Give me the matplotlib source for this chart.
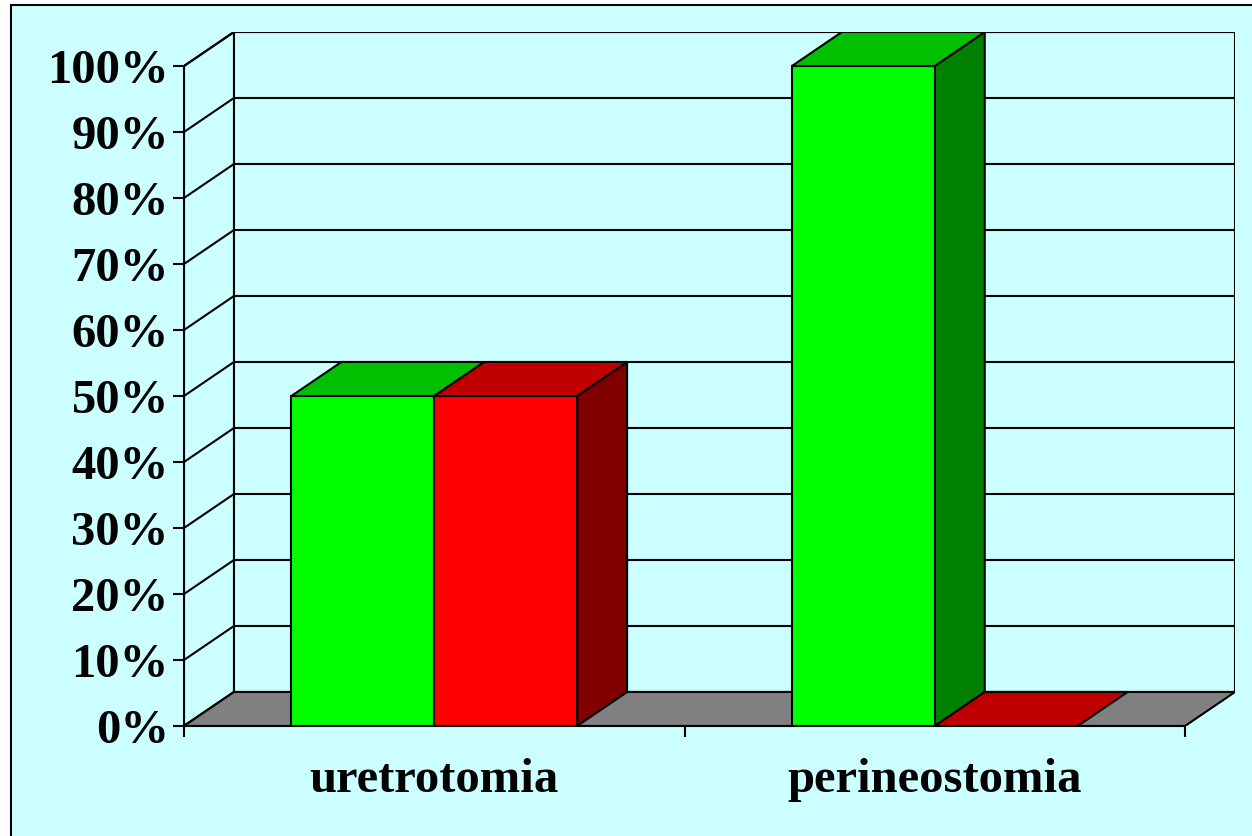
import matplotlib
matplotlib.use("Agg")
import matplotlib.pyplot as plt
from matplotlib.patches import Polygon, Rectangle

categories = ["uretrotomia", "perineostomia"]
green_values = [50, 100]
red_values = [50, 0]
yticks = [0, 10, 20, 30, 40, 50, 60, 70, 80, 90, 100]
ytick_labels = ["0%", "10%", "20%", "30%", "40%", "50%", "60%", "70%", "80%", "90%", "100%"]

W, H = 1252, 836
fig = plt.figure(figsize=(W / 100, H / 100), dpi=100)
fig.patch.set_facecolor("white")
fig.patches.append(Rectangle((11 / W, -0.05), 1.1, 1 - 5 / H + 0.05, transform=fig.transFigure,
                             facecolor="#CCFFFF", edgecolor="black", linewidth=1.5, zorder=-10))

# axes: front plane left at px 184, bottom at 726; back plane right at 1235, top at 32
ax = fig.add_axes([184 / W, 1 - 726 / H, (1235 - 184) / W, (726 - 32) / H])
ax.set_facecolor("none")
cat_px = 501.0
dx = 50 / cat_px          # depth offset in category units
dy = 34 / 660 * 100       # depth offset in percent units
ax.set_xlim(0, 2 + dx)
ax.set_ylim(0, 100 + dy)

lw = 1.5
# back wall
ax.add_patch(Polygon([(dx, dy), (2 + dx, dy), (2 + dx, 100 + dy), (dx, 100 + dy)],
                     closed=True, facecolor="#CCFFFF", edgecolor="black", lw=lw, zorder=1))
# left wall
ax.add_patch(Polygon([(0, 0), (dx, dy), (dx, 100 + dy), (0, 100)],
                     closed=True, facecolor="#CCFFFF", edgecolor="black", lw=lw, zorder=1))
for v in yticks:
    ax.plot([0, dx, 2 + dx], [v, v + dy, v + dy], color="black", lw=lw, zorder=2,
            solid_capstyle="butt")
# floor
ax.add_patch(Polygon([(0, 0), (2, 0), (2 + dx, dy), (dx, dy)],
                     closed=True, facecolor="#808080", edgecolor="black", lw=lw, zorder=3))

bar_w = 143 / cat_px
series = [(green_values, "#00FF00", "#00C000", "#008000"),
          (red_values, "#FF0000", "#C00000", "#800000")]
z = 4
for i, cat in enumerate(categories):
    center = i + 0.5
    for j, (vals, front, top, side) in enumerate(series):
        h = vals[i]
        x0 = center - bar_w + j * bar_w
        x1 = x0 + bar_w
        if h > 0:
            ax.add_patch(Polygon([(x1, 0), (x1 + dx, dy), (x1 + dx, h + dy), (x1, h)],
                                 closed=True, facecolor=side, edgecolor="black", lw=lw, zorder=z))
            ax.add_patch(Rectangle((x0, 0), bar_w, h, facecolor=front, edgecolor="black",
                                   lw=lw, zorder=z))
        ax.add_patch(Polygon([(x0, h), (x1, h), (x1 + dx, h + dy), (x0 + dx, h + dy)],
                             closed=True, facecolor=top, edgecolor="black", lw=lw, zorder=z))
        z += 1

for s in ["top", "right"]:
    ax.spines[s].set_visible(False)
ax.spines["left"].set_bounds(0, 100)
ax.spines["bottom"].set_bounds(0, 2)
for s in ["left", "bottom"]:
    ax.spines[s].set_linewidth(lw)
    ax.spines[s].set_zorder(20)

font = dict(family="Liberation Serif", weight="bold", size=35)
ax.set_yticks(yticks)
ax.set_yticklabels(ytick_labels, fontdict=font)
ax.set_xticks([0, 1, 2])
ax.set_xticklabels(["", "", ""])
ax.set_xticks([0.5, 1.5], minor=True)
ax.set_xticklabels(categories, minor=True, fontdict=font)
ax.tick_params(axis="y", direction="out", length=8, width=lw, pad=3)
ax.tick_params(axis="x", which="major", direction="out", length=8, width=lw)
ax.tick_params(axis="x", which="minor", length=0, pad=23)

fig.savefig("out.png", dpi=100)
